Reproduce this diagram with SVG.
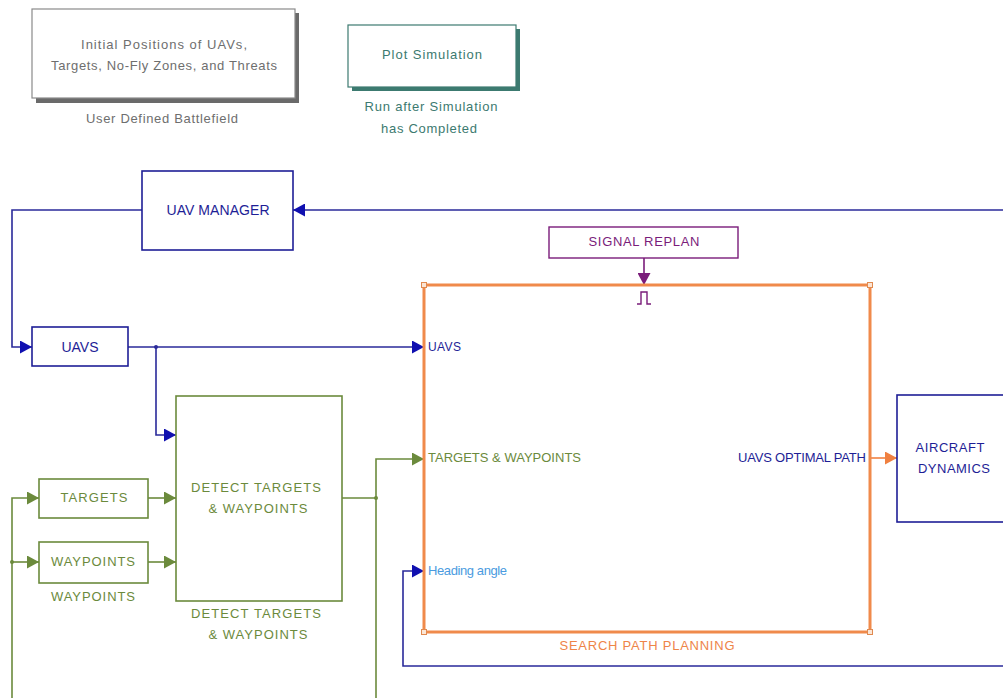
<svg xmlns="http://www.w3.org/2000/svg" width="1003" height="698" viewBox="0 0 1003 698">
  <style>
    text { font-family: "Liberation Sans", Arial, sans-serif; font-size: 13px; }
    .gray { fill: #6e6e6e; }
    .teal { fill: #3c7a70; }
    .blue { fill: #1e1e96; }
    .green { fill: #6b8a3c; }
    .orange { fill: #ee8448; }
    .purple { fill: #7a1c7a; }
    .lblue { fill: #4a9be0; }
    .c { text-anchor: middle; }
    .box { fill: #ffffff; stroke-width: 1.6; }
    .wb { stroke: #1e1e96; }
    .wg { stroke: #6b8a3c; }
    .wire { fill: none; stroke-width: 1.6; }
  </style>
  <defs>
    <marker id="ab" viewBox="0 0 12 13" refX="12" refY="6.5" markerWidth="12" markerHeight="13" markerUnits="userSpaceOnUse" orient="auto">
      <path d="M0,0 L12,6.5 L0,13 Z" fill="#1010b0"/>
    </marker>
    <marker id="ag" viewBox="0 0 12 13" refX="12" refY="6.5" markerWidth="12" markerHeight="13" markerUnits="userSpaceOnUse" orient="auto">
      <path d="M0,0 L12,6.5 L0,13 Z" fill="#6b8a3c"/>
    </marker>
    <marker id="ao" viewBox="0 0 12 13" refX="12" refY="6.5" markerWidth="12" markerHeight="13" markerUnits="userSpaceOnUse" orient="auto">
      <path d="M0,0 L12,6.5 L0,13 Z" fill="#f08040"/>
    </marker>
    <marker id="ap" viewBox="0 0 12 13" refX="12" refY="6.5" markerWidth="12" markerHeight="13" markerUnits="userSpaceOnUse" orient="auto">
      <path d="M0,0 L12,6.5 L0,13 Z" fill="#7a1c7a"/>
    </marker>
  </defs>

  <rect width="1003" height="698" fill="#ffffff"/>

  <!-- connectors -->
  <g id="connectors" class="wire">
    <!-- feedback into UAV manager -->
    <path d="M1003,210 H293" stroke="#2a2a9a" marker-end="url(#ab)"/>
    <!-- manager to UAVS -->
    <path d="M142,210 H12 V347 H32" stroke="#2a2a9a" marker-end="url(#ab)"/>
    <!-- UAVS to planner -->
    <path d="M128,347 H424" stroke="#2a2a9a" marker-end="url(#ab)"/>
    <path d="M156,347 V435 H176" stroke="#2a2a9a" marker-end="url(#ab)"/>
    <circle cx="156" cy="347" r="2" fill="#2a2a9a" stroke="none"/>
    <!-- heading angle feedback -->
    <path d="M1003,666 H403 V571 H424" stroke="#2a2a9a" marker-end="url(#ab)"/>
    <!-- targets / waypoints -->
    <path d="M12,698 V498 H39" stroke="#6b8a3c" marker-end="url(#ag)"/>
    <path d="M12,562 H39" stroke="#6b8a3c" marker-end="url(#ag)"/>
    <circle cx="12" cy="562" r="2" fill="#6b8a3c" stroke="none"/>
    <path d="M148,498 H176" stroke="#6b8a3c" marker-end="url(#ag)"/>
    <path d="M148,562 H176" stroke="#6b8a3c" marker-end="url(#ag)"/>
    <!-- detect output -->
    <path d="M342,498 H376 V459 H424" stroke="#6b8a3c" marker-end="url(#ag)"/>
    <path d="M376,498 V698" stroke="#6b8a3c"/>
    <circle cx="376" cy="498" r="2" fill="#6b8a3c" stroke="none"/>
    <!-- replan trigger -->
    <path d="M644,258 V285" stroke="#7a1c7a" marker-end="url(#ap)"/>
    <!-- optimal path out -->
    <path d="M870,458 H897" stroke="#f08040" marker-end="url(#ao)"/>
  </g>

  <!-- battlefield setup -->
  <g id="battlefield">
    <rect x="36" y="13" width="263" height="90" fill="#6a6a6a"/>
    <rect x="32" y="9" width="263" height="89" fill="#ffffff" stroke="#8a8a8a" stroke-width="1.2"/>
    <text x="164" y="49" class="gray c" textLength="166">Initial Positions of UAVs,</text>
    <text x="164" y="70" class="gray c" textLength="226">Targets, No-Fly Zones, and Threats</text>
    <text x="162" y="123" class="gray c" textLength="152">User Defined Battlefield</text>
  </g>

  <!-- plot simulation -->
  <g id="plot-simulation">
    <rect x="352" y="29" width="168" height="62" fill="#3c7a70"/>
    <rect x="348" y="25" width="168" height="62" fill="#ffffff" stroke="#3c7a70" stroke-width="1.2"/>
    <text x="432" y="59" class="teal c" textLength="100">Plot Simulation</text>
    <text x="431" y="111" class="teal c" textLength="133">Run after Simulation</text>
    <text x="429" y="133" class="teal c" textLength="96">has Completed</text>
  </g>

  <!-- UAV manager -->
  <g id="uav-manager">
    <rect x="142" y="171" width="151" height="79" class="box wb"/>
    <text x="218" y="215" class="blue c" textLength="103" style="font-size:14px">UAV MANAGER</text>
  </g>

  <!-- UAVS -->
  <g id="uavs">
    <rect x="32" y="327" width="96" height="39" class="box wb"/>
    <text x="80" y="352" class="blue c" textLength="37" style="font-size:14px">UAVS</text>
  </g>

  <!-- targets -->
  <g id="targets">
    <rect x="39" y="479" width="109" height="39" class="box wg"/>
    <text x="94" y="502" class="green c" textLength="67">TARGETS</text>
  </g>

  <!-- waypoints -->
  <g id="waypoints">
    <rect x="39" y="542" width="109" height="41" class="box wg"/>
    <text x="93" y="566" class="green c" textLength="84">WAYPOINTS</text>
    <text x="93" y="601" class="green c" textLength="84">WAYPOINTS</text>
  </g>

  <!-- detect targets and waypoints -->
  <g id="detect">
    <rect x="176" y="396" width="166" height="205" class="box wg"/>
    <text x="256" y="492" class="green c" textLength="130">DETECT TARGETS</text>
    <text x="258" y="513" class="green c" textLength="99">&amp; WAYPOINTS</text>
    <text x="256" y="618" class="green c" textLength="130">DETECT TARGETS</text>
    <text x="258" y="639" class="green c" textLength="99">&amp; WAYPOINTS</text>
  </g>

  <!-- signal replan -->
  <g id="signal-replan">
    <rect x="549" y="227" width="189" height="31" fill="#ffffff" stroke="#7a1c7a" stroke-width="1.4"/>
    <text x="644" y="246" class="purple c" textLength="111">SIGNAL REPLAN</text>
  </g>

  <!-- search path planning -->
  <g id="search-path-planning">
    <rect x="424" y="285" width="446" height="347" fill="none" stroke="#f08a4b" stroke-width="3"/>
    <g fill="#fbe6d6" stroke="#e08a50" stroke-width="1">
      <rect x="421.5" y="282.5" width="5" height="5"/>
      <rect x="867.5" y="282.5" width="5" height="5"/>
      <rect x="421.5" y="629.5" width="5" height="5"/>
      <rect x="867.5" y="629.5" width="5" height="5"/>
    </g>
    <path d="M637,304 H641 V292 H647 V304 H651" fill="none" stroke="#7a1c7a" stroke-width="1.4"/>
    <text x="428" y="351" class="blue" textLength="33" style="font-size:12px">UAVS</text>
    <text x="428" y="462" class="green" textLength="153">TARGETS &amp;  WAYPOINTS</text>
    <text x="428" y="575" class="lblue" textLength="79">Heading angle</text>
    <text x="866" y="462" class="blue" text-anchor="end" textLength="128">UAVS OPTIMAL PATH</text>
    <text x="647" y="650" class="orange c" textLength="175">SEARCH PATH PLANNING</text>
  </g>

  <!-- aircraft dynamics -->
  <g id="aircraft-dynamics">
    <rect x="897" y="395" width="110" height="127" class="box wb"/>
    <text x="950" y="452" class="blue c" textLength="69">AIRCRAFT</text>
    <text x="954" y="473" class="blue c" textLength="72">DYNAMICS</text>
  </g>
</svg>
